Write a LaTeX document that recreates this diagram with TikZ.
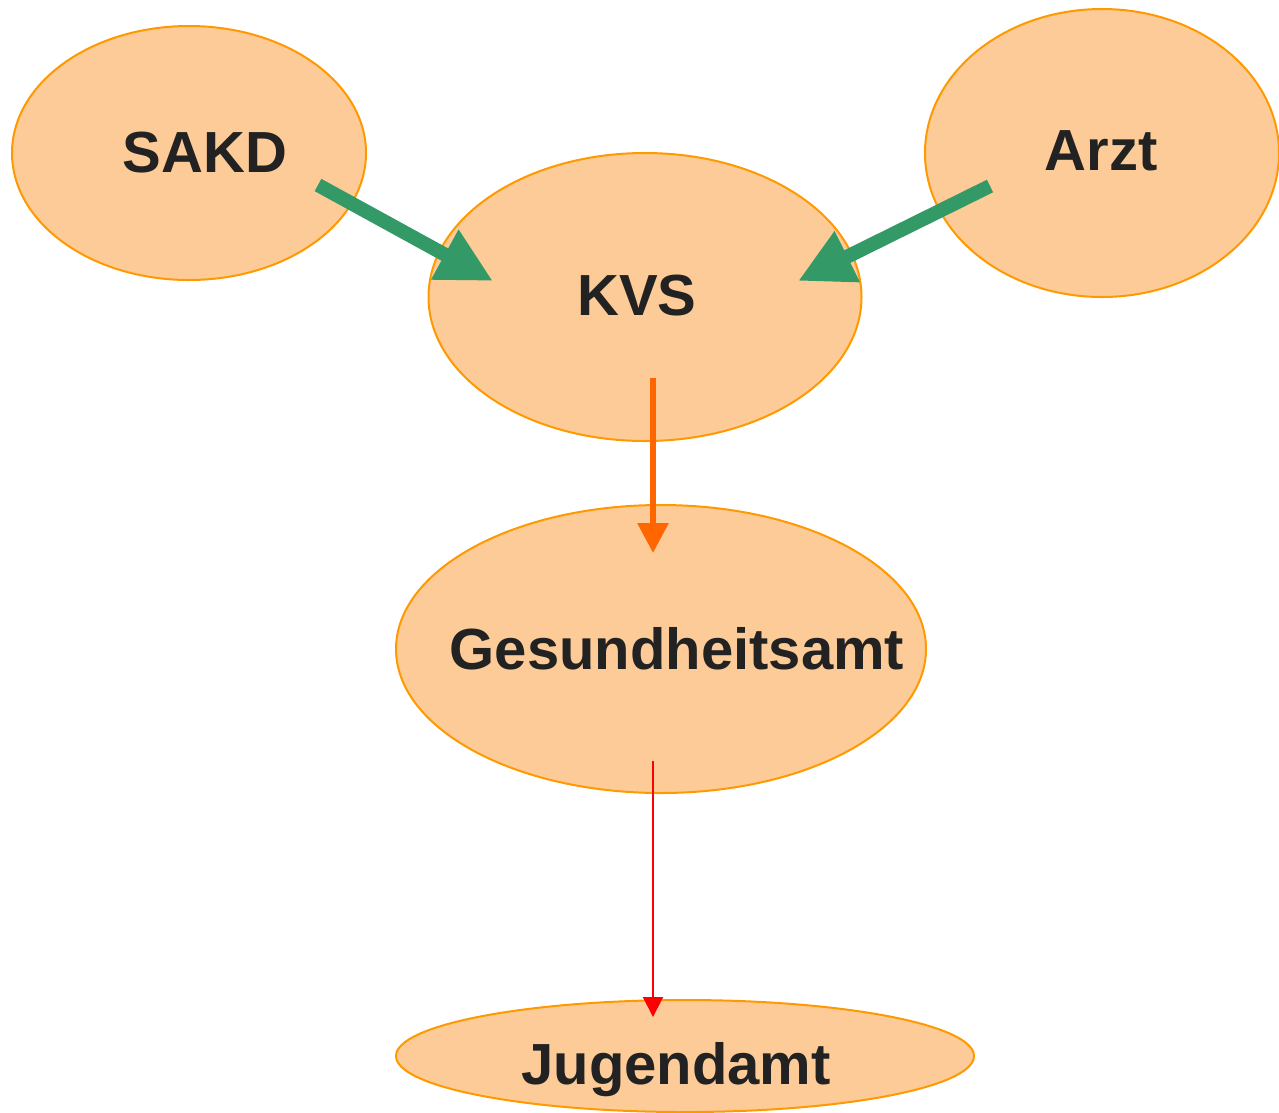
\documentclass[tikz,border=0pt]{standalone}
\usepackage{fontspec}
\setmainfont{Liberation Sans}
\usepackage{xcolor}
\usetikzlibrary{arrows.meta, positioning, calc, shapes.geometric}
\definecolor{peach}{HTML}{FDCB98}
\definecolor{rimorange}{HTML}{FF9900}
\definecolor{flowgreen}{HTML}{339966}
\definecolor{floworange}{HTML}{FF6600}
\definecolor{flowred}{HTML}{FF0000}
\definecolor{inkgray}{HTML}{222222}

\begin{document}
\begin{tikzpicture}[
  blob/.style={ellipse, draw=rimorange, fill=peach, line width=0.04cm, inner sep=0pt},
  txt/.style={font=\fontsize{33}{38}\selectfont\bfseries, text=inkgray, inner sep=0pt},
  garr/.style={-{Triangle[length=1.1cm, width=1.06cm]}, draw=flowgreen, line width=0.28cm},
  oarr/.style={-{Triangle[length=0.6cm, width=0.6cm]}, draw=floworange, line width=0.12cm},
  rarr/.style={-{Triangle[length=0.4cm, width=0.4cm]}, draw=flowred, line width=0.04cm}
]
\useasboundingbox (0,0) rectangle (25.58,-22.24);

% --- ellipses ---
\node[blob, minimum width=7.08cm, minimum height=5.08cm]  (sakd)   at (3.78,-3.06) {};
\node[blob, minimum width=7.08cm, minimum height=5.76cm]  (arzt)   at (22.04,-3.06) {};
\node[blob, minimum width=8.66cm, minimum height=5.76cm]  (kvs)    at (12.90,-5.94) {};
\node[blob, minimum width=10.6cm, minimum height=5.76cm]  (gesund) at (13.22,-12.98) {};
\node[blob, minimum width=11.56cm, minimum height=2.24cm] (jugend) at (13.70,-21.12) {};

% --- labels ---
\node[txt] (sakd-txt)   at ($(sakd)+(0.32,0)$)      {SAKD};
\node[txt] (arzt-txt)   at ($(arzt)+(-0.02,0.04)$)  {Arzt};
\node[txt] (kvs-txt)    at ($(kvs)+(-0.16,0.02)$)   {KVS};
\node[txt] (gesund-txt) at ($(gesund)+(0.32,0)$)    {Gesundheitsamt};
\node[txt] (jugend-txt) at ($(jugend)+(-0.18,-0.28)$) {Jugendamt};

% --- arrow ends ---
\coordinate (sakd-out)   at (6.36,-3.70);
\coordinate (kvs-inl)    at (9.86,-5.62);
\coordinate (arzt-out)   at (19.80,-3.72);
\coordinate (kvs-inr)    at (15.96,-5.62);
\coordinate (kvs-out)    at (13.06,-7.56);
\coordinate (gesund-in)  at (13.06,-11.06);
\coordinate (gesund-out) at (13.06,-15.22);
\coordinate (jugend-in)  at (13.06,-20.34);

% --- arrows ---
\draw[garr] (sakd-out) -- (kvs-inl);
\draw[garr] (arzt-out) -- (kvs-inr);
\draw[oarr] (kvs-out) -- (gesund-in);
\draw[rarr] (gesund-out) -- (jugend-in);

\end{tikzpicture}
\end{document}
